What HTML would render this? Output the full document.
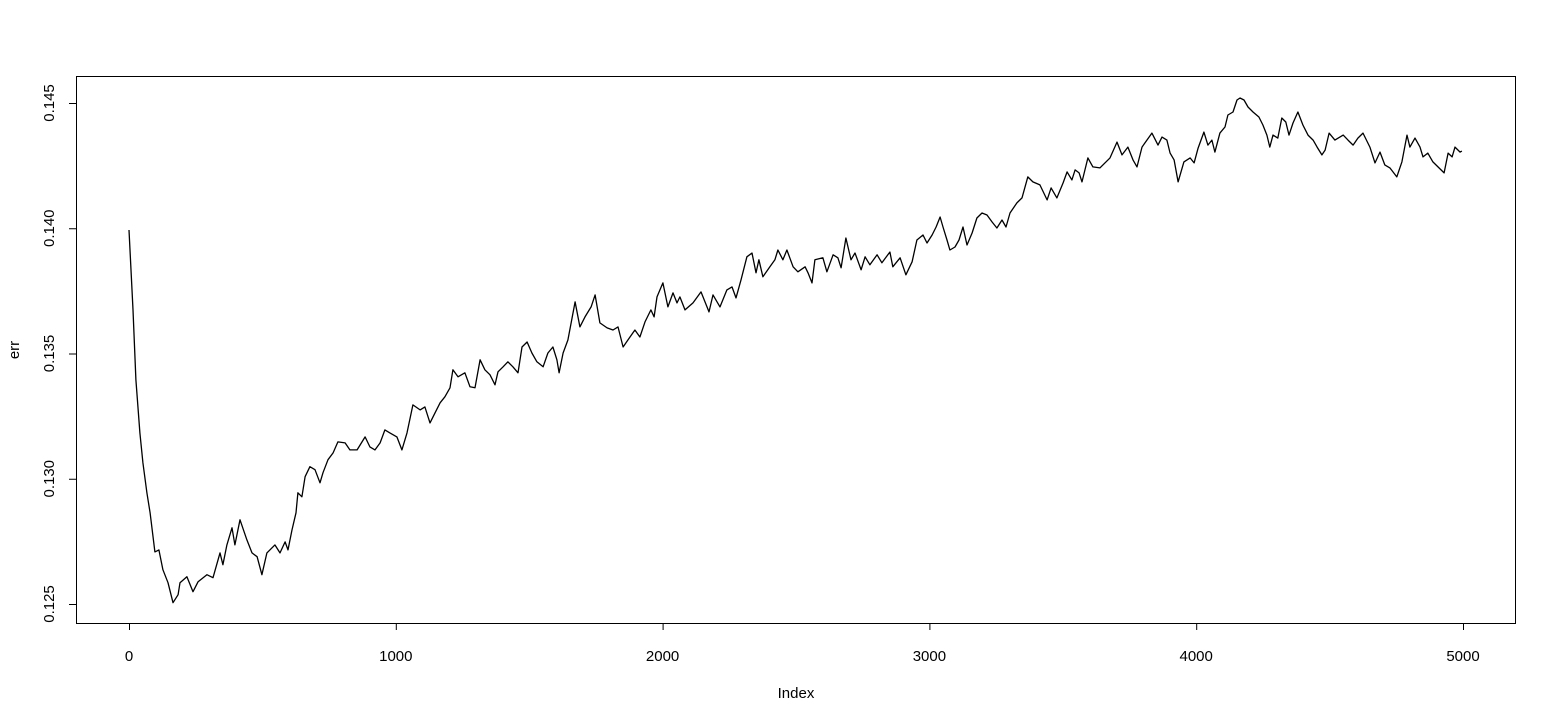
<!DOCTYPE html>
<html><head><meta charset="utf-8"><style>
body{margin:0;background:#fff;}
svg{display:block;font-family:"Liberation Sans",Arial,sans-serif;}
</style></head><body>
<svg id="chart" width="1555" height="720" viewBox="0 0 1555 720" xmlns="http://www.w3.org/2000/svg">
<rect x="0" y="0" width="1555" height="720" fill="#fff"/>
<rect x="76.5" y="76.5" width="1439" height="547" fill="none" stroke="#000" stroke-width="1"/>
<g id="xaxis"></g>
<g id="yaxis"></g>
<text x="796" y="698" font-size="15" text-anchor="middle">Index</text>
<text transform="translate(19,350) rotate(-90)" font-size="15" text-anchor="middle">err</text>
<g id="series"></g>
</svg>
<script>
const xTicks=[0,1000,2000,3000,4000,5000];
const yTicks=[0.125,0.130,0.135,0.140,0.145];
const yTickLabels=["0.125","0.130","0.135","0.140","0.145"];
const idx=[0,15,26,41,52,67,79,97,112,127,146,165,184,191,217,240,259,292,315,341,352,367,386,397,416,442,461,480,498,517,547,566,585,596,611,626,633,648,660,678,697,716,727,746,765,783,810,828,855,885,903,922,941,959,978,1004,1023,1042,1064,1091,1109,1128,1147,1166,1184,1203,1214,1233,1259,1278,1297,1316,1334,1353,1372,1383,1402,1420,1439,1458,1473,1492,1510,1529,1552,1570,1589,1604,1612,1627,1645,1672,1690,1709,1732,1747,1765,1792,1814,1833,1852,1870,1896,1915,1934,1956,1968,1979,2001,2020,2039,2054,2065,2084,2114,2144,2174,2189,2215,2241,2260,2275,2294,2316,2335,2350,2361,2376,2402,2421,2432,2451,2466,2489,2507,2534,2545,2560,2571,2601,2616,2639,2657,2669,2687,2706,2721,2744,2759,2777,2804,2822,2852,2863,2890,2912,2935,2953,2976,2991,3010,3025,3040,3051,3066,3077,3096,3111,3126,3141,3160,3178,3197,3216,3235,3253,3272,3287,3302,3328,3347,3369,3388,3414,3441,3456,3478,3501,3516,3534,3546,3561,3572,3594,3613,3639,3677,3703,3722,3744,3763,3778,3797,3834,3857,3872,3890,3902,3917,3932,3954,3977,3992,4007,4029,4044,4059,4070,4089,4108,4119,4138,4153,4164,4179,4194,4213,4235,4250,4265,4276,4288,4306,4321,4336,4348,4363,4381,4400,4419,4438,4453,4471,4483,4498,4520,4551,4569,4588,4606,4625,4651,4670,4689,4707,4726,4752,4771,4790,4801,4820,4839,4850,4868,4887,4910,4929,4944,4959,4970,4989,4996];
const err=[0.13993,0.13674,0.13395,0.13183,0.13064,0.12944,0.12864,0.12708,0.12716,0.12637,0.12585,0.12505,0.12537,0.12585,0.12609,0.12549,0.12589,0.12617,0.12605,0.12704,0.12657,0.12736,0.12804,0.12736,0.12836,0.12756,0.12704,0.12689,0.12617,0.12704,0.12736,0.12704,0.12748,0.12716,0.12796,0.12864,0.12944,0.12928,0.13008,0.13048,0.13036,0.12984,0.13024,0.13076,0.13103,0.13147,0.13143,0.13115,0.13115,0.13167,0.13127,0.13115,0.13143,0.13195,0.13183,0.13167,0.13115,0.13183,0.13295,0.13275,0.13287,0.13223,0.13263,0.13303,0.13327,0.13363,0.13435,0.13407,0.13423,0.13367,0.13363,0.13475,0.13435,0.13415,0.13375,0.13427,0.13447,0.13467,0.13447,0.13423,0.13526,0.13546,0.13502,0.13467,0.13447,0.13502,0.13526,0.13475,0.13423,0.13502,0.13554,0.13706,0.13606,0.13646,0.13686,0.13734,0.13622,0.13602,0.13594,0.13606,0.13526,0.13554,0.13594,0.13566,0.13626,0.13674,0.13646,0.13726,0.13782,0.13686,0.13742,0.13702,0.13726,0.13674,0.13702,0.13746,0.13666,0.13734,0.13686,0.13754,0.13766,0.13722,0.13794,0.13886,0.13901,0.13822,0.13874,0.13806,0.13846,0.13874,0.13913,0.13874,0.13913,0.13846,0.13826,0.13846,0.13822,0.13782,0.13874,0.13882,0.13826,0.13894,0.13882,0.13842,0.13961,0.13874,0.13901,0.13834,0.13886,0.13854,0.13894,0.13862,0.13905,0.13846,0.13882,0.13814,0.13866,0.13953,0.13973,0.13941,0.13973,0.14005,0.14045,0.14005,0.13953,0.13913,0.13925,0.13953,0.14005,0.13933,0.13981,0.14041,0.14061,0.14053,0.14025,0.14001,0.14033,0.14005,0.14061,0.14101,0.14121,0.14205,0.14185,0.14173,0.14113,0.14161,0.14121,0.14181,0.14225,0.14193,0.14233,0.14221,0.14185,0.14281,0.14245,0.14241,0.14281,0.14344,0.14293,0.14324,0.14273,0.14245,0.14324,0.14380,0.14332,0.14364,0.14352,0.14300,0.14273,0.14185,0.14265,0.14281,0.14261,0.14320,0.14384,0.14332,0.14352,0.14304,0.14380,0.14404,0.14452,0.14464,0.14512,0.14520,0.14512,0.14484,0.14464,0.14444,0.14412,0.14372,0.14324,0.14372,0.14360,0.14440,0.14424,0.14372,0.14420,0.14464,0.14412,0.14372,0.14352,0.14324,0.14293,0.14312,0.14380,0.14352,0.14372,0.14352,0.14332,0.14360,0.14380,0.14324,0.14261,0.14304,0.14253,0.14241,0.14205,0.14265,0.14372,0.14324,0.14360,0.14324,0.14285,0.14300,0.14265,0.14241,0.14221,0.14300,0.14285,0.14324,0.14304,0.14308];

const NS="http://www.w3.org/2000/svg";
function xs(i){return 129+(i/1000)*266.8;}
function ys(v){return 103+(0.145-v)*25050;}

const xa=document.getElementById('xaxis');
const xline=document.createElementNS(NS,'line');


xline.setAttribute('x1',xs(xTicks[0]));xline.setAttribute('x2',xs(xTicks[xTicks.length-1]));
xline.setAttribute('y1',623.5);xline.setAttribute('y2',623.5);xline.setAttribute('stroke','#000');
xa.appendChild(xline);
xTicks.forEach(t=>{
  const l=document.createElementNS(NS,'line');
  
  
  l.setAttribute('x1',xs(t)+0.5);l.setAttribute('x2',xs(t)+0.5);l.setAttribute('y1',623);l.setAttribute('y2',630);l.setAttribute('stroke','#000');
  xa.appendChild(l);
  const tx=document.createElementNS(NS,'text');
  
  
  tx.setAttribute('x',xs(t));tx.setAttribute('y',661);tx.setAttribute('font-size','15');tx.setAttribute('text-anchor','middle');
  tx.textContent=String(t);
  xa.appendChild(tx);
});
const ya=document.getElementById('yaxis');
const yline=document.createElementNS(NS,'line');


yline.setAttribute('x1',76.5);yline.setAttribute('x2',76.5);
yline.setAttribute('y1',ys(yTicks[0]));yline.setAttribute('y2',ys(yTicks[yTicks.length-1]));yline.setAttribute('stroke','#000');
ya.appendChild(yline);
yTicks.forEach((t,k)=>{
  const l=document.createElementNS(NS,'line');
  
  
  l.setAttribute('x1',69);l.setAttribute('x2',76);l.setAttribute('y1',ys(t)+0.5);l.setAttribute('y2',ys(t)+0.5);l.setAttribute('stroke','#000');
  ya.appendChild(l);
  const tx=document.createElementNS(NS,'text');
  
  
  tx.setAttribute('transform','translate(54,'+ys(t)+') rotate(-90)');
  tx.setAttribute('font-size','15');tx.setAttribute('text-anchor','middle');
  tx.textContent=yTickLabels[k];
  ya.appendChild(tx);
});
const sg=document.getElementById('series');
const pl=document.createElementNS(NS,'polyline');


pl.setAttribute('points',idx.map((i,k)=>xs(i).toFixed(1)+','+ys(err[k]).toFixed(1)).join(' '));
pl.setAttribute('fill','none');pl.setAttribute('stroke','#000');pl.setAttribute('stroke-width','1.3');pl.setAttribute('stroke-linejoin','round');
sg.appendChild(pl);
</script>
</body></html>
